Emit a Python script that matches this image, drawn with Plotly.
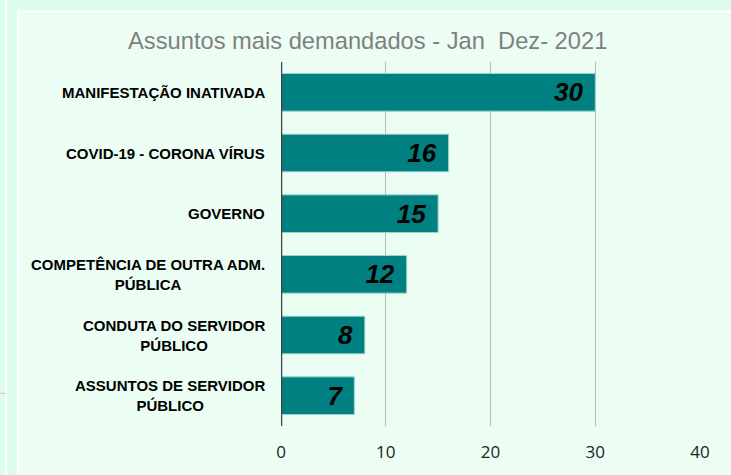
import plotly.graph_objects as go

categories = [
    "MANIFESTAÇÃO INATIVADA",
    "COVID-19 - CORONA VÍRUS",
    "GOVERNO",
    "COMPETÊNCIA DE OUTRA ADM.<br>PÚBLICA",
    "CONDUTA DO SERVIDOR<br>PÚBLICO",
    "ASSUNTOS DE SERVIDOR<br>PÚBLICO",
]
values = [30, 16, 15, 12, 8, 7]
x_ticks = [0, 10, 20, 30, 40]
title_text = "Assuntos mais demandados - Jan  Dez- 2021"

W, H = 731, 475
L, R, T, B = 281, 31, 62, 45
pw, ph = W - L - R, H - T - B

def px_x(p):
    return (p - L) / pw

def px_y(p):
    return (H - B - p) / ph

fig = go.Figure()
fig.add_trace(go.Bar(
    y=categories,
    x=values,
    orientation="h",
    marker=dict(color="#008080", line=dict(color="#9fd3d0", width=1)),
    text=[f"{v} \u200a" for v in values],
    textposition="inside",
    insidetextanchor="end",
    textangle=0,
    textfont=dict(family="Liberation Sans, Arial", size=26, color="#000000",
                  weight="bold", style="italic"),
    hoverinfo="skip",
))

annotations = []
for c in categories:
    annotations.append(dict(
        x=0, xref="paper", y=c, yref="y",
        text=c, showarrow=False, xanchor="right", yanchor="middle",
        align="center", xshift=-14,
        font=dict(family="Liberation Sans, Arial", size=15, color="#000000", weight="bold"),
    ))

shapes = [
    dict(type="rect", xref="paper", yref="paper",
         x0=px_x(18), x1=px_x(745), y0=px_y(11), y1=px_y(490),
         fillcolor="#ecfef4", line=dict(color="#ffffff", width=2), layer="below"),
    dict(type="line", xref="paper", yref="paper",
         x0=px_x(6), x1=px_x(6), y0=px_y(-5), y1=px_y(490),
         line=dict(color="#ffffff", width=2), layer="below"),
    dict(type="line", xref="paper", yref="paper",
         x0=px_x(0), x1=px_x(6), y0=px_y(397), y1=px_y(397),
         line=dict(color="#c8cccc", width=1), layer="below"),
]

fig.update_layout(
    width=W, height=H,
    margin=dict(l=L, r=R, t=T, b=B, pad=0),
    paper_bgcolor="#dcfcee",
    plot_bgcolor="rgba(0,0,0,0)",
    bargap=0.38,
    showlegend=False,
    title=dict(text=title_text, x=0.503, xref="container", xanchor="center",
               y=1 - 41 / H, yref="container", yanchor="middle",
               font=dict(family="Liberation Sans, Arial", size=23.7, color="#808080")),
    xaxis=dict(range=[0, 40], tickvals=x_ticks, showgrid=True, gridcolor="#b8b8b8",
               gridwidth=1, zeroline=False, showline=False, ticks="",
               tickfont=dict(family="Liberation Sans Narrow, Open Sans, Arial", size=17, color="#222222"),
               ticklabelstandoff=14),
    yaxis=dict(autorange="reversed", showticklabels=False, showgrid=False,
               zeroline=False, showline=False, ticks=""),
    annotations=annotations,
    shapes=shapes + [dict(type="line", xref="x", yref="paper", x0=0, x1=0, y0=0, y1=1,
                          line=dict(color="#404040", width=2.5))],
)

fig.write_html("out.html", config={"displayModeBar": False},
               post_script="document.body.style.margin='0';document.body.style.background='#dcfcee';")
